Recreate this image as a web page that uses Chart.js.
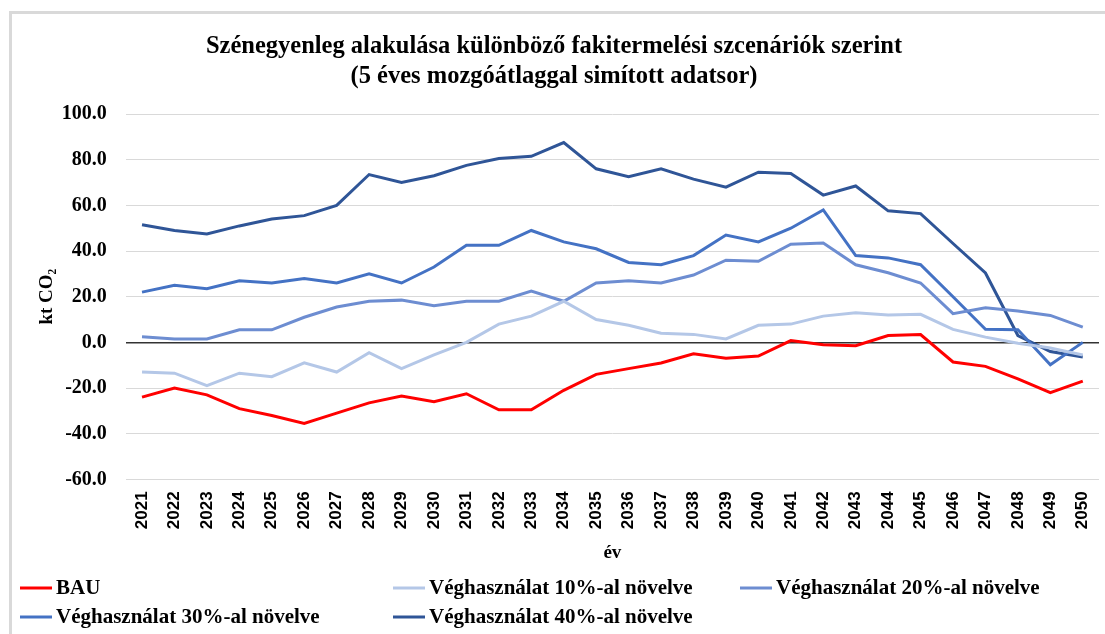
<!DOCTYPE html>
<html>
<head>
<meta charset="utf-8">
<script src="https://cdn.jsdelivr.net/npm/chart.js@4/dist/chart.umd.min.js"></script>
<style>
  html, body { margin: 0; padding: 0; background: #fff; overflow: hidden; }
  #frame { position: absolute; left: 9px; top: 11px; width: 1200px; height: 700px; border: 3px solid #d9d9d9; box-sizing: border-box; }
  #wrap { position: absolute; left: 0; top: 0; width: 1105px; height: 634px; }
</style>
</head>
<body>
<div id="frame"></div>
<div id="wrap"><canvas id="linechart"></canvas></div>
<script>
const years = ['2021','2022','2023','2024','2025','2026','2027','2028','2029','2030',
  '2031','2032','2033','2034','2035','2036','2037','2038','2039','2040',
  '2041','2042','2043','2044','2045','2046','2047','2048','2049','2050'];

const bau = [-24, -20, -23, -29, -32, -35.5, -31, -26.5, -23.5, -26,
  -22.5, -29.5, -29.5, -21, -14, -11.5, -9, -5, -7, -6,
  0.8, -1, -1.5, 3, 3.4, -8.6, -10.5, -16, -22, -17];
const veg10 = [-13, -13.5, -19, -13.5, -15, -9, -13, -4.5, -11.5, -5.5,
  0, 8, 11.5, 18, 10, 7.5, 4, 3.5, 1.5, 7.5,
  8, 11.5, 13, 12, 12.3, 5.7, 2.3, -0.4, -2.5, -5.5];
const veg20 = [2.5, 1.5, 1.5, 5.5, 5.5, 11, 15.5, 18, 18.5, 16,
  18, 18, 22.5, 18, 26, 27, 26, 29.5, 36, 35.5,
  43, 43.5, 34, 30.5, 26, 12.6, 15.2, 13.7, 11.8, 6.7];
const veg30 = [22, 25, 23.5, 27, 26, 28, 26, 30, 26, 33,
  42.5, 42.5, 49, 44, 41, 35, 34, 38, 47, 44,
  50, 58, 38, 37, 34, 20, 5.7, 5.5, -9.8, 0];
const veg40 = [51.5, 49, 47.5, 51, 54, 55.5, 60, 73.5, 70, 73,
  77.5, 80.5, 81.5, 87.5, 76, 72.5, 76, 71.5, 68, 74.5,
  74, 64.5, 68.5, 57.6, 56.4, 43.3, 30.4, 3, -4, -6.4];

const seriesNames = ['BAU', 'Véghasználat 10%-al növelve', 'Véghasználat 20%-al növelve',
  'Véghasználat 30%-al növelve', 'Véghasználat 40%-al növelve'];
const seriesColors = ['#ff0000', '#b4c7e7', '#6d8dd1', '#4472c4', '#2f5597'];

const serif = '"Liberation Serif", "DejaVu Serif", serif';
const sans = '"Liberation Sans", Arial, sans-serif';

// legend in a fixed grid like the original (3 columns, 2 rows)
const gridLegend = {
  id: 'gridLegend',
  afterDraw(chart) {
    const c = chart.ctx;
    const cols = [20, 393, 740];
    const rows = [588, 617];
    c.save();
    c.font = 'bold 21px ' + serif;
    c.textBaseline = 'middle';
    c.fillStyle = '#000';
    chart.data.datasets.forEach((ds, i) => {
      const x = cols[i % 3];
      const y = rows[Math.floor(i / 3)];
      c.strokeStyle = ds.borderColor;
      c.lineWidth = 3;
      c.beginPath();
      c.moveTo(x, y);
      c.lineTo(x + 32, y);
      c.stroke();
      c.fillText(ds.label, x + 36, y + 1);
    });
    c.restore();
  }
};

const ctx = document.getElementById('linechart').getContext('2d');
const linechart = new Chart(ctx, {
  type: 'line',
  data: {
    labels: years,
    datasets: [bau, veg10, veg20, veg30, veg40].map((d, i) => ({
      label: seriesNames[i],
      data: d,
      borderColor: seriesColors[i],
      backgroundColor: seriesColors[i],
      borderWidth: 3,
      pointRadius: 0,
      tension: 0,
      fill: false
    }))
  },
  options: {
    responsive: true,
    maintainAspectRatio: false,
    animation: false,
    layout: { padding: { left: 9, right: 6, top: 10, bottom: 68 } },
    plugins: {
      legend: { display: false },
      tooltip: { enabled: false },
      title: {
        display: true,
        text: ['Szénegyenleg alakulása különböző fakitermelési szcenáriók szerint',
               '(5 éves mozgóátlaggal simított adatsor)'],
        color: '#000',
        font: { family: serif, size: 24.5, weight: 'bold', lineHeight: 1.225 },
        padding: { top: 22, bottom: 22 }
      }
    },
    scales: {
      x: {
        offset: true,
        // rotated labels sit inside the category slots, no side padding needed
        afterFit: s => { s.paddingLeft = 0; s.paddingRight = 0; },
        grid: { display: false, drawTicks: false },
        border: { display: false },
        ticks: {
          color: '#000',
          minRotation: 90,
          maxRotation: 90,
          autoSkip: false,
          padding: 12,
          font: { family: sans, size: 17, weight: 'bold' }
        },
        title: {
          display: true,
          text: 'év',
          color: '#000',
          padding: { top: 0, bottom: 2 },
          font: { family: serif, size: 19, weight: 'bold' }
        }
      },
      y: {
        min: -60,
        max: 100,
        // tick padding is counted twice by the fit; drop the outer copy
        afterFit: s => { s.width -= 19; },
        border: { display: false },
        grid: {
          drawTicks: false,
          color: c => c.tick.value === 0 ? '#333333' : '#d9d9d9',
          lineWidth: c => c.tick.value === 0 ? 1.5 : 1
        },
        ticks: {
          stepSize: 20,
          color: '#000',
          padding: 19,
          font: { family: serif, size: 20, weight: 'bold' },
          callback: v => v.toFixed(1)
        },
        title: {
          display: true,
          text: 'kt CO₂',
          color: '#000',
          padding: { top: 27, bottom: 3 },
          font: { family: serif, size: 19, weight: 'bold' }
        }
      }
    }
  },
  plugins: [gridLegend]
});
</script>
</body>
</html>
